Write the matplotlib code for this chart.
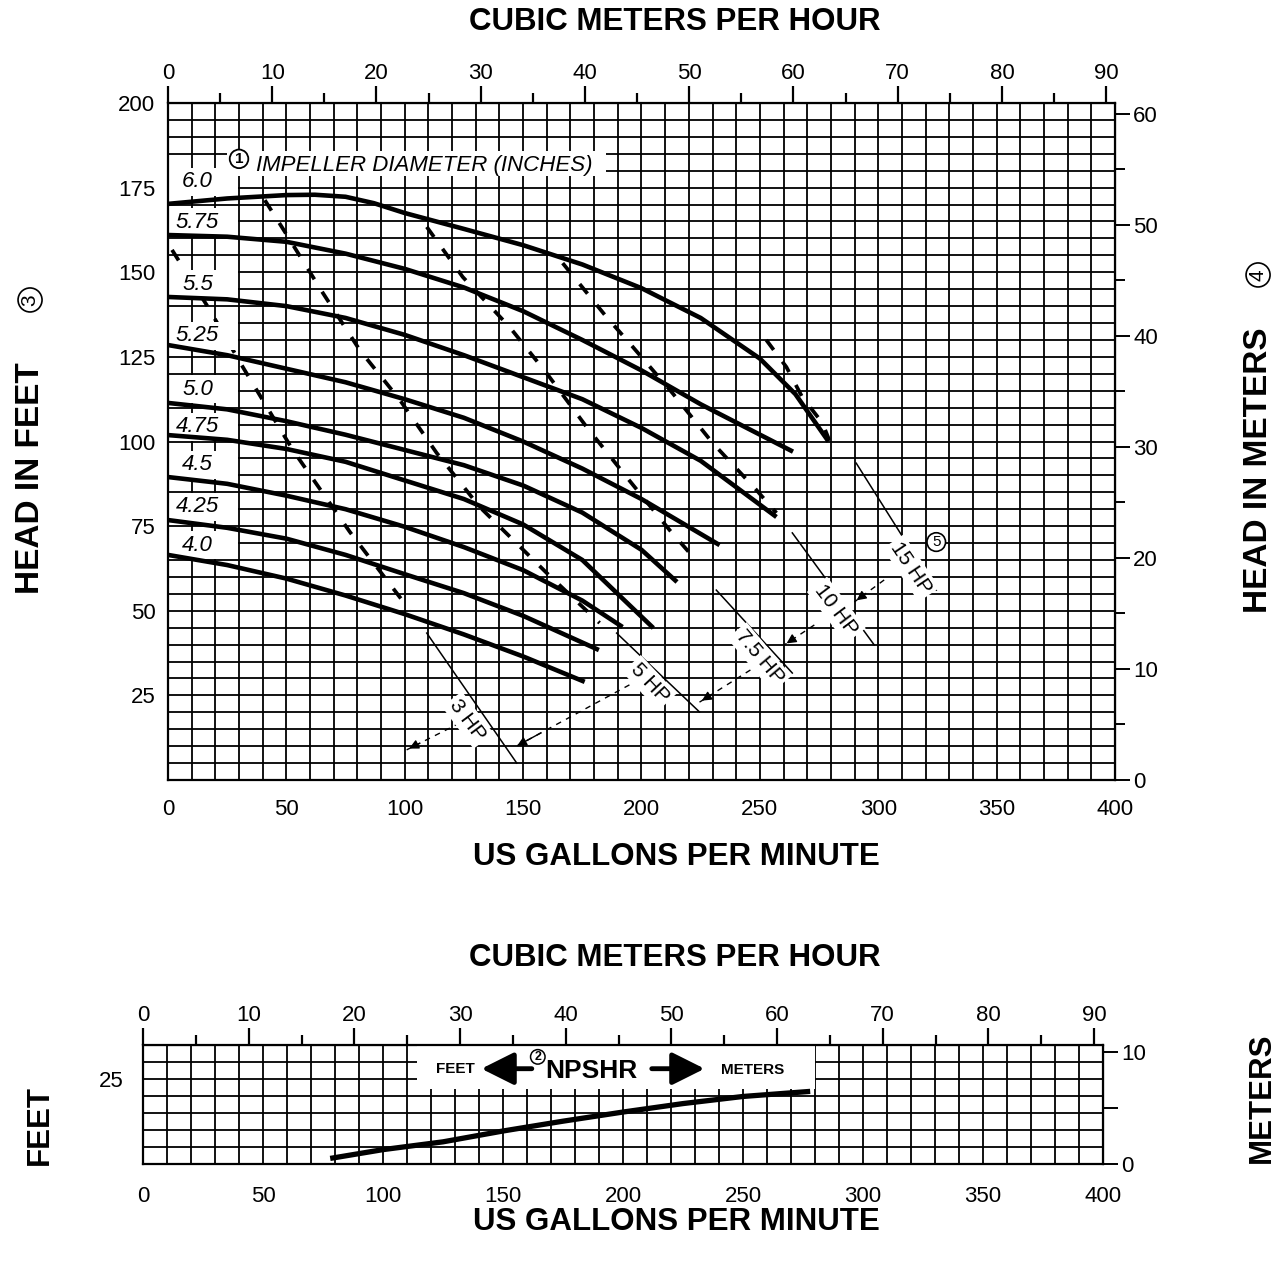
import numpy as np
import matplotlib.pyplot as plt
from matplotlib.patches import Rectangle

plt.rcParams['font.family'] = ['Liberation Sans', 'DejaVu Sans']

GPM_PER_M3H = 4.403
FT_PER_M = 3.2808

# impeller curves: flow (US gpm) and head (ft)
q_600 = [0, 25, 50, 62, 75, 87, 100, 125, 150, 175, 200, 225, 250, 265, 279]
h_600 = [170.2, 171.8, 172.8, 172.9, 172.3, 170.4, 167.5, 162.8, 158, 152.3, 145.3, 136.5, 124.5, 114, 100]
q_575 = [0, 25, 50, 75, 100, 125, 150, 175, 200, 225, 264]
h_575 = [161, 160.5, 159, 155.5, 151, 145.5, 138.5, 130, 121, 111, 97]
q_550 = [0, 25, 50, 75, 100, 125, 150, 175, 200, 225, 257]
h_550 = [142.7, 142, 140, 136.5, 131.5, 125.5, 119, 112.5, 104, 94.3, 77.7]
q_525 = [0, 25, 50, 75, 100, 125, 150, 175, 200, 233]
h_525 = [128.5, 125.5, 121.5, 117.5, 112.5, 107, 100, 92, 83, 69.4]
q_500 = [0, 25, 50, 75, 100, 125, 150, 175, 200, 215]
h_500 = [111.4, 109.5, 106, 102, 97.5, 93, 87, 79, 68, 58.5]
q_475 = [0, 25, 50, 75, 100, 125, 150, 175, 205]
h_475 = [101.9, 100.5, 97.8, 94, 88.5, 83, 75.5, 65, 44.9]
q_450 = [0, 25, 50, 75, 100, 125, 150, 175, 192]
h_450 = [89.5, 87.5, 84, 80, 74.8, 68.8, 62, 53, 45.2]
q_425 = [0, 25, 50, 75, 100, 125, 150, 182]
h_425 = [76.8, 74.5, 71.3, 66.5, 60.8, 55.2, 48.5, 38.4]
q_400 = [0, 25, 50, 75, 100, 125, 150, 176]
h_400 = [66.5, 63.5, 59.5, 54.5, 49, 43, 36.5, 29]

diam_labels = ['6.0', '5.75', '5.5', '5.25', '5.0', '4.75', '4.5', '4.25', '4.0']
diam_label_head = [176.7, 164.8, 146.5, 131.2, 115.5, 104.3, 93.1, 80.7, 69.4]
curves = [(q_600, h_600), (q_575, h_575), (q_550, h_550), (q_525, h_525), (q_500, h_500),
          (q_475, h_475), (q_450, h_450), (q_425, h_425), (q_400, h_400)]

# horsepower lines: dashed part, then thin part with label
hp3_q = [1.7, 16.9, 31.6, 52.7, 76.8, 102.1]
hp3_h = [156.6, 139.7, 122.0, 97.5, 73.3, 50.2]
hp3_tq = [109.3, 147.3]
hp3_th = [43.4, 5.0]
hp5_q = [40.9, 49.4, 65.4, 81.0, 97.9, 113.5, 131.6, 159.9, 182.3]
hp5_h = [171.3, 161.9, 143.9, 127.0, 112.3, 96.6, 80.7, 61.2, 46.4]
hp5_tq = [189.5, 224.5]
hp5_th = [43.4, 20.1]
hp75_q = [109.3, 124.5, 144.3, 159.9, 176.8, 193.7, 211.8, 220.3]
hp75_h = [163.4, 148.6, 133.8, 120.2, 104.3, 89.5, 73.9, 67.1]
hp75_tq = [231.6, 263.7]
hp75_th = [56.1, 31.6]
hp10_q = [166.7, 185.2, 194.9, 213.1, 230.0, 248.5, 257.0]
hp10_h = [152.7, 136.8, 129.1, 114.3, 99.6, 85.7, 78.9]
hp10_tq = [263.7, 298.3]
hp10_th = [73.0, 39.9]
hp15_q = [252.7, 261.2, 267.9, 276.4, 279.3]
hp15_h = [130.0, 122.0, 113.1, 105.5, 100.4]
hp15_tq = [290.7, 324.5]
hp15_th = [93.6, 56.1]

hp_labels = ['3 HP', '5 HP', '7.5 HP', '10 HP', '15 HP']
hp_label_q = [126.6, 203.4, 249.8, 282.3, 313.9]
hp_label_h = [17.7, 28.7, 36.3, 50.2, 62.6]
hp_label_rot = [-53, -47, -50, -53, -56]

# NPSHR (ft)
npsh_q = [78, 100, 125, 150, 175, 200, 225, 250, 278]
npsh_h = [1.5, 4.1, 6.4, 9.6, 12.5, 15.2, 17.7, 19.8, 21.3]

fig = plt.figure(figsize=(12.84, 12.63), dpi=100)
ax = fig.add_axes([0.13084, 0.38242, 0.73754, 0.53602])
ax.set_xlim(0, 400)
ax.set_ylim(0, 200)

ax.vlines(np.arange(10, 400, 10), 0, 200, color='k', lw=1.3, zorder=1)
ax.hlines(np.arange(5, 200, 5), 0, 400, color='k', lw=1.3, zorder=1)

# white label areas
for lab, yh in zip(diam_labels, diam_label_head):
    ax.add_patch(Rectangle((0, yh - 4.2), 29.5, 8.4, fc='white', ec='none', zorder=2))
    ax.text(12.5, yh, lab, fontsize=16, style='italic', ha='center', va='center', zorder=5)
ax.add_patch(Rectangle((25, 178.3), 160, 7.4, fc='white', ec='none', zorder=2))
ax.text(37, 181.6, 'IMPELLER DIAMETER (INCHES)', fontsize=16, style='italic',
        ha='left', va='center', zorder=5)
ax.text(30, 183.5, '1', fontsize=11, fontweight='bold', ha='center', va='center', zorder=5,
        bbox=dict(boxstyle='circle,pad=0.15', fc='white', ec='k', lw=1.3))

for q, h in curves:
    ax.plot(q, h, color='k', lw=3.3, solid_capstyle='butt', solid_joinstyle='round', zorder=4)

dashed = [(hp3_q, hp3_h), (hp5_q, hp5_h), (hp75_q, hp75_h), (hp10_q, hp10_h), (hp15_q, hp15_h)]
thin = [(hp3_tq, hp3_th), (hp5_tq, hp5_th), (hp75_tq, hp75_th), (hp10_tq, hp10_th), (hp15_tq, hp15_th)]
for q, h in dashed:
    ax.plot(q, h, color='k', lw=2.7, ls=(0, (3.3, 3.9)), zorder=1.8)
for q, h in thin:
    ax.plot(q, h, color='k', lw=1.1, zorder=4)
for lab, q, h, r in zip(hp_labels, hp_label_q, hp_label_h, hp_label_rot):
    ax.text(q, h, lab, fontsize=15, rotation=r, rotation_mode='anchor', ha='center', va='center',
            zorder=5, bbox=dict(boxstyle='square,pad=0.15', fc='white', ec='none'))
ax.text(324.5, 70.3, '5', fontsize=11, ha='center', va='center', zorder=5,
        bbox=dict(boxstyle='circle,pad=0.15', fc='white', ec='k', lw=1.2))

# pointer arrows between hp lines
arrows = [((127.4, 18.3), (100.8, 8.9)), ((194.9, 28.1), (146.4, 9.7)),
          ((246.0, 32.5), (224.5, 23.0)), ((273.0, 45.8), (260.3, 39.9)),
          ((302.5, 59.1), (289.9, 52.6))]
for tail, head in arrows:
    ax.plot([tail[0], head[0]], [tail[1], head[1]], color='k', lw=1.0, ls=(0, (4, 4)), zorder=4)
    ax.annotate('', xy=head, xytext=(head[0] + (tail[0] - head[0]) * 0.25,
                                     head[1] + (tail[1] - head[1]) * 0.25),
                arrowprops=dict(arrowstyle='-|>', color='k', lw=1.0, mutation_scale=14),
                zorder=5)

for s in ax.spines.values():
    s.set_linewidth(1.6)
ax.set_xticks(np.arange(0, 401, 50))
ax.set_yticks(np.arange(25, 201, 25))
ax.tick_params(axis='x', length=0, pad=14, labelsize=16)
ax.tick_params(axis='y', length=0, pad=9, labelsize=16)

top = ax.secondary_xaxis('top', functions=(lambda g: g / GPM_PER_M3H, lambda m: m * GPM_PER_M3H))
top.set_xticks(np.arange(0, 91, 10))
top.set_xticks(np.arange(5, 91, 10), minor=True)
top.tick_params(which='major', length=12, width=1.6, pad=2, labelsize=16)
top.tick_params(which='minor', length=7, width=1.6)
right = ax.secondary_yaxis('right', functions=(lambda f: f / FT_PER_M, lambda m: m * FT_PER_M))
right.set_yticks(np.arange(0, 61, 10))
right.set_yticks(np.arange(5, 61, 10), minor=True)
right.tick_params(which='major', length=11, width=1.4, pad=2, labelsize=16)
right.tick_params(which='minor', length=7, width=1.4)

# NPSHR panel
ax2 = fig.add_axes([0.11137, 0.07878, 0.74766, 0.09382])
ax2.set_xlim(0, 400)
ax2.set_ylim(0, 35)
ax2.vlines(np.arange(10, 400, 10), 0, 35, color='k', lw=1.3, zorder=1)
ax2.hlines(np.arange(5, 35, 5), 0, 400, color='k', lw=1.3, zorder=1)
ax2.add_patch(Rectangle((114, 22), 166, 12.8, fc='white', ec='none', zorder=2))
ax2.plot(npsh_q, npsh_h, color='k', lw=3.8, solid_capstyle='butt', solid_joinstyle='round', zorder=4)
ax2.text(130, 28, 'FEET', fontsize=11, fontweight='bold', ha='center', va='center', zorder=5)
ax2.annotate('', xy=(141, 28), xytext=(162, 28), zorder=5,
             arrowprops=dict(arrowstyle='-|>,head_width=0.45,head_length=0.9', color='k',
                             lw=3.5, mutation_scale=22, shrinkA=0, shrinkB=0))
ax2.text(164.5, 31.5, '2', fontsize=9, fontweight='bold', ha='center', va='center', zorder=5,
         bbox=dict(boxstyle='circle,pad=0.1', fc='white', ec='k', lw=1.1))
ax2.text(187, 27.2, 'NPSHR', fontsize=19, fontweight='bold', ha='center', va='center', zorder=5)
ax2.annotate('', xy=(234, 28), xytext=(212, 28), zorder=5,
             arrowprops=dict(arrowstyle='-|>,head_width=0.45,head_length=0.9', color='k',
                             lw=3.5, mutation_scale=22, shrinkA=0, shrinkB=0))
ax2.text(254, 27.6, 'METERS', fontsize=11, fontweight='bold', ha='center', va='center', zorder=5)

for s in ax2.spines.values():
    s.set_linewidth(1.6)
ax2.set_xticks(np.arange(0, 401, 50))
ax2.set_yticks([25])
ax2.tick_params(axis='x', length=0, pad=16, labelsize=16)
ax2.tick_params(axis='y', length=0, pad=14, labelsize=16)
top2 = ax2.secondary_xaxis('top', functions=(lambda g: g / GPM_PER_M3H, lambda m: m * GPM_PER_M3H))
top2.set_xticks(np.arange(0, 91, 10))
top2.set_xticks(np.arange(5, 91, 10), minor=True)
top2.tick_params(which='major', length=12, width=1.6, pad=2, labelsize=16)
top2.tick_params(which='minor', length=7, width=1.6)
right2 = ax2.secondary_yaxis('right', functions=(lambda f: f / FT_PER_M, lambda m: m * FT_PER_M))
right2.set_yticks([0, 10])
right2.set_yticks([5], minor=True)
right2.tick_params(which='major', length=11, width=1.4, pad=2, labelsize=16)
right2.tick_params(which='minor', length=11, width=1.4)

# titles
bold = dict(fontsize=22.5, fontweight='bold', ha='center', va='center')
side = dict(fontsize=24, fontweight='bold', ha='center', va='center', rotation=90)
fig.text(0.5257, 0.9826, 'CUBIC METERS PER HOUR', **bold)
fig.text(0.5265, 0.3215, 'US GALLONS PER MINUTE', **bold)
fig.text(0.0234, 0.6215, 'HEAD IN FEET', **side)
fig.text(0.9798, 0.6279, 'HEAD IN METERS', **side)
fig.text(0.5257, 0.2415, 'CUBIC METERS PER HOUR', **bold)
fig.text(0.5265, 0.0325, 'US GALLONS PER MINUTE', **bold)
fig.text(0.0312, 0.1093, 'FEET', **bold, rotation=90)
fig.text(0.9829, 0.1306, 'METERS', **bold, rotation=90)
circ = dict(fontsize=15, rotation=90, ha='center', va='center',
            bbox=dict(boxstyle='circle,pad=0.12', fc='white', ec='k', lw=1.2))
fig.text(0.0234, 0.7625, '3', **circ)
fig.text(0.9798, 0.7823, '4', **circ)

fig.savefig('out.png', dpi=100)
